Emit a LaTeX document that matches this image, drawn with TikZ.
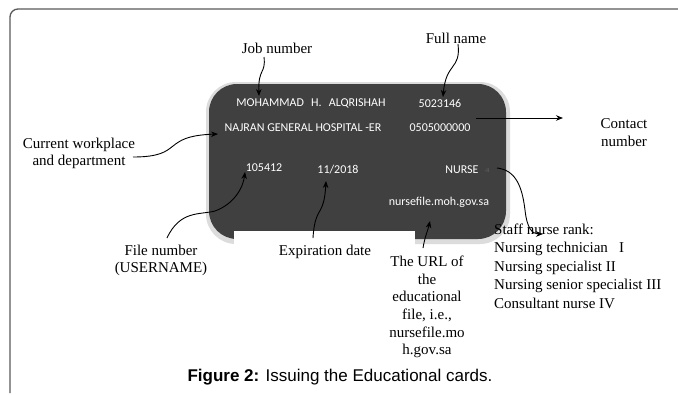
\documentclass[tikz,border=0pt]{standalone}
\usepackage{fontspec}
\setmainfont{Liberation Serif}
\newfontfamily\cardfont{Carlito}
\newfontfamily\capfont{Liberation Sans}
\usetikzlibrary{arrows.meta}
\definecolor{cardgray}{HTML}{404040}
\definecolor{shadowgray}{HTML}{DCDCDC}
\definecolor{framegray}{HTML}{5A5A5A}
\begin{document}
\begin{tikzpicture}[x=1pt,y=-1pt,
  lbl/.style={font=\fontsize{15}{18}\selectfont, inner sep=0pt, align=center},
  cardtxt/.style={font=\cardfont\fontsize{12}{13}\selectfont, text=white, inner sep=0pt},
  arr/.style={-{Stealth[length=7pt,width=5.5pt]}, line width=0.9pt},
]
\useasboundingbox (0,0) rectangle (678,394);
\fill[white] (0,0) rectangle (678,394);
% outer frame
\draw[line width=1.3pt, framegray, rounded corners=8pt] (678,9) -- (10,9) -- (10,393);
% card
\fill[shadowgray, rounded corners=30pt] (206,82) rectangle (510,244);
\fill[cardgray, rounded corners=28pt] (209,84) rectangle (506,239);
\fill[white] (234,231) rectangle (415,252);
% card texts
\node[cardtxt] (name) at (311,103) {MOHAMMAD\hspace{0.6em}H.\hspace{0.6em}ALQRISHAH};
\node[cardtxt] (jobno) at (440,103) {5023146};
\node[cardtxt] (hosp) at (303,128) {NAJRAN GENERAL HOSPITAL -ER};
\node[cardtxt] (phone) at (440,128) {0505000000};
\node[cardtxt] (fileno) at (264,168) {105412};
\node[cardtxt] (exp) at (338,170) {11/2018};
\node[cardtxt] (nurse) at (462,170) {NURSE};
\node[cardtxt, text=black!60, font=\cardfont\fontsize{6}{7}\selectfont] (rk) at (487,171) {-II};
\node[cardtxt] (url) at (439,202) {nursefile.moh.gov.sa};
% labels
\node[lbl] (job) at (277,48) {Job number};
\node[lbl] (full) at (456,38) {Full name};
\node[lbl] (contact) at (624,133) {Contact\\number};
\node[lbl, font=\fontsize{15}{17}\selectfont] (work) at (79,153.5) {Current workplace\\and department};
\node[lbl, font=\fontsize{15}{17}\selectfont] (filel) at (161,260) {File number\\(USERNAME)};
\node[lbl] (expl) at (325,252) {Expiration date};
\node[lbl, font=\fontsize{15}{17.6}\selectfont] (urll) at (427,307) {The URL of\\the\\educational\\file, i.e.,\\nursefile.mo\\h.gov.sa};
\node[lbl, align=left, anchor=west, font=\fontsize{15}{18.5}\selectfont] (rank) at (494,266) {Staff nurse rank:\\Nursing technician\ \ \ I\\Nursing specialist II\\Nursing senior specialist III\\Consultant nurse IV};
\node[font=\capfont\fontsize{17}{20}\selectfont, inner sep=0pt] (cap) at (340,377) {\textbf{Figure 2:} Issuing the Educational cards.};
% arrow endpoints
\coordinate (jobS) at (264,57);
\coordinate (jobT) at (259,96);
\coordinate (fullS) at (458,44);
\coordinate (fullT) at (443,97);
\coordinate (conS) at (476,118);
\coordinate (conT) at (563,118);
\coordinate (workS) at (133,157);
\coordinate (workT) at (218,134);
\coordinate (fileS) at (167,238);
\coordinate (fileT) at (245,172);
\coordinate (expS) at (313,238);
\coordinate (expT) at (326,181);
\coordinate (urlS) at (423,248);
\coordinate (urlT) at (430,221);
\coordinate (nurS) at (497,168);
\coordinate (nurT) at (543,234);
% arrows
\draw[arr] (jobS) .. controls (266,74) and (258,68) .. (jobT);
\draw[arr] (fullS) .. controls (461,70) and (446,62) .. (fullT);
\draw[arr] (conS) -- (conT);
\draw[arr] (workS) .. controls (185,157) and (160,136) .. (workT);
\draw[arr] (fileS) .. controls (180,210) and (200,215) .. (215,211) .. controls (234,204) and (243,188) .. (fileT);
\draw[arr] (expS) .. controls (315,205) and (324,218) .. (expT);
\draw[arr] (urlS) .. controls (425,236) and (428,230) .. (urlT);
\draw[arr] (nurS) .. controls (515,170) and (522,185) .. (525,210) .. controls (527,228) and (532,234) .. (nurT);
\end{tikzpicture}
\end{document}
